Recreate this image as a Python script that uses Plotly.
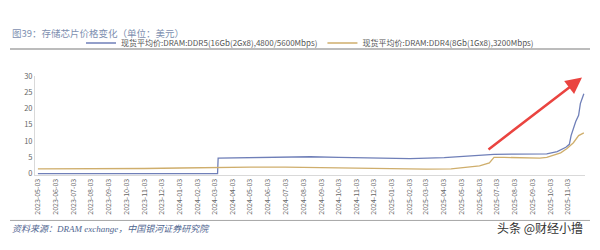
import plotly.graph_objects as go

# ---- data ----
ddr5_dates = ["2023-05-03", "2024-03-08", "2024-03-09", "2024-05-03", "2024-07-03", "2024-08-15",
              "2024-10-03", "2024-12-03", "2025-02-03", "2025-04-03", "2025-05-03", "2025-06-28",
              "2025-08-03", "2025-09-27", "2025-10-15", "2025-10-30", "2025-11-05", "2025-11-08",
              "2025-11-16", "2025-11-21", "2025-11-24", "2025-11-30"]
ddr5_values = [0, 0, 4.8, 4.9, 5.1, 5.2,
               5.0, 4.7, 4.6, 4.9, 5.3, 5.9,
               6.0, 6.1, 6.8, 8.1, 9.0, 11.7,
               16.0, 17.9, 21.5, 24.5]

ddr4_dates = ["2023-05-03", "2023-08-03", "2023-11-03", "2024-01-03", "2024-03-03", "2024-05-03",
              "2024-07-03", "2024-09-03", "2024-11-03", "2025-01-03", "2025-03-03", "2025-04-15",
              "2025-05-15", "2025-06-03", "2025-06-20", "2025-06-28", "2025-07-15", "2025-08-15",
              "2025-09-15", "2025-09-27", "2025-10-21", "2025-11-01", "2025-11-12", "2025-11-21",
              "2025-11-30"]
ddr4_values = [1.5, 1.5, 1.6, 1.75, 1.95, 2.0,
               2.0, 1.8, 1.6, 1.45, 1.4, 1.45,
               1.9, 2.4, 3.3, 5.0, 5.0, 4.8,
               4.8, 5.0, 6.4, 7.7, 9.5, 11.7,
               12.5]

ddr5_name = "现货平均价:DRAM:DDR5(16Gb(2Gx8),4800/5600Mbps)"
ddr4_name = "现货平均价:DRAM:DDR4(8Gb(1Gx8),3200Mbps)"
title_text = "图39：存储芯片价格变化（单位：美元）"
source_text = "资料来源：DRAM exchange，中国银河证券研究院"
watermark_text = "头条 @财经小撸"

FONT = "Noto Sans CJK SC"
L, R, TOP, BOT = 35, 585, 61, 175.5
W, H = R - L, BOT - TOP


def px(x):
    return (x - L) / W


def py(y):
    return (BOT - y) / H


fig = go.Figure()
fig.add_trace(go.Scatter(x=ddr5_dates, y=ddr5_values, mode="lines", name=ddr5_name,
                         line=dict(color="#6f7fb8", width=1.3)))
fig.add_trace(go.Scatter(x=ddr4_dates, y=ddr4_values, mode="lines", name=ddr4_name,
                         line=dict(color="#cfae6c", width=1.3)))

fig.update_layout(
    width=600, height=250,
    margin=dict(l=L, r=600 - R, t=TOP, b=250 - BOT),
    paper_bgcolor="white", plot_bgcolor="white",
    font=dict(family=FONT, color="#666666", size=7),
    showlegend=True,
    legend=dict(orientation="h", xref="container", yref="container",
                x=0.135, y=0.828, xanchor="left", yanchor="middle",
                font=dict(size=8, color="#555555"), itemwidth=30,
                bgcolor="rgba(0,0,0,0)", tracegroupgap=0),
    xaxis=dict(type="date", range=["2023-04-28", "2025-12-02"],
               tick0="2023-05-03", dtick="M1", tickformat="%Y-%m-%d",
               tickangle=-90, tickfont=dict(size=7, color="#666666"),
               showgrid=False, showline=True, linecolor="#d9d9d9", linewidth=1,
               ticks="", zeroline=False),
    yaxis=dict(range=[-0.4, 30], tickvals=[0, 5, 10, 15, 20, 25, 30],
               tickfont=dict(size=7.5, color="#666666"),
               showgrid=False, showline=True, linecolor="#d9d9d9", linewidth=1,
               ticks="", zeroline=False),
)

fig.add_annotation(text=title_text, xref="paper", yref="paper",
                   x=px(10), y=py(12), xanchor="left", yanchor="middle", showarrow=False,
                   font=dict(family=FONT, size=9.5, color="#7d8fb0"))
fig.add_annotation(text="<i>" + source_text + "</i>", xref="paper", yref="paper",
                   x=px(10), y=py(238), xanchor="left", yanchor="middle", showarrow=False,
                   font=dict(family="Liberation Serif, Noto Sans CJK SC", size=9, color="#4f6690"))
fig.add_annotation(text=watermark_text, xref="paper", yref="paper",
                   x=px(585), y=py(236), xanchor="right", yanchor="middle", showarrow=False,
                   font=dict(family=FONT, size=12, color="#333333"))

fig.add_shape(type="line", xref="paper", yref="paper",
              x0=px(10), x1=px(590), y0=py(30), y1=py(30),
              line=dict(color="#a6a6a6", width=1.5))
fig.add_shape(type="line", xref="paper", yref="paper",
              x0=px(10), x1=px(590), y0=py(228), y1=py(228),
              line=dict(color="#a6a6a6", width=1))

# red arrow
fig.add_annotation(text="", xref="paper", yref="paper",
                   x=px(582), y=py(63), ax=-95, ay=73, showarrow=True,
                   arrowhead=2, arrowsize=1.3, arrowwidth=2.5, arrowcolor="#ea4440")

fig.write_html("out.html")
